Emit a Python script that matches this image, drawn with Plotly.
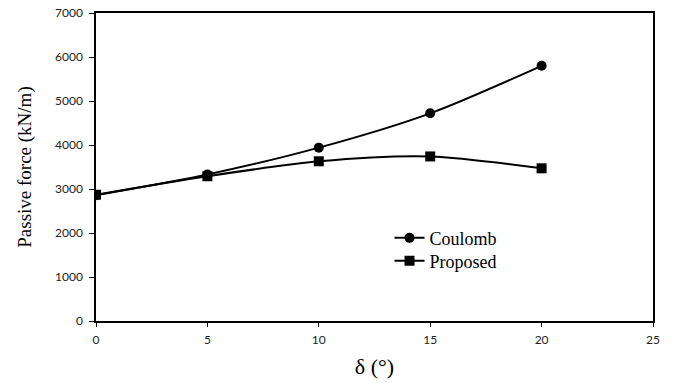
import plotly.graph_objects as go

delta = [0, 5, 10, 15, 20]
coulomb = [2860, 3330, 3940, 4720, 5800]
proposed = [2870, 3290, 3630, 3740, 3470]
x_ticks = [0, 5, 10, 15, 20, 25]
y_ticks = [0, 1000, 2000, 3000, 4000, 5000, 6000, 7000]

fig = go.Figure()
fig.add_trace(go.Scatter(x=delta, y=coulomb, name="Coulomb", mode="lines+markers", legend="legend",
                         line=dict(color="black", width=2, shape="spline", smoothing=0.8),
                         marker=dict(symbol="circle", size=10, color="black")))
fig.add_trace(go.Scatter(x=delta, y=proposed, name="Proposed", mode="lines+markers", legend="legend2",
                         line=dict(color="black", width=2, shape="spline", smoothing=0.8),
                         marker=dict(symbol="square", size=10, color="black")))

serif = "Liberation Serif, Times New Roman, serif"
tickfont = dict(family="Lato, Carlito, sans-serif", size=12, color="#222")
legfont = dict(family=serif, size=18, color="black")
fig.update_layout(
    width=674, height=385,
    margin=dict(l=96, r=21, t=13, b=64, autoexpand=False),
    plot_bgcolor="white", paper_bgcolor="white",
    showlegend=True,
    legend=dict(x=0.527, y=0.269, xanchor="left", yanchor="middle", font=legfont,
                bgcolor="rgba(0,0,0,0)", itemwidth=30),
    legend2=dict(x=0.527, y=0.195, xanchor="left", yanchor="middle", font=legfont,
                 bgcolor="rgba(0,0,0,0)", itemwidth=30),
    xaxis=dict(range=[0, 25], tickvals=x_ticks, showgrid=False, zeroline=False, automargin=False,
               showline=True, linecolor="black", linewidth=1.5, mirror=True,
               ticks="outside", ticklen=4, tickcolor="black", tickfont=tickfont, ticklabelstandoff=3,
               title=dict(text="δ (°)", font=dict(family=serif, size=22, color="black"), standoff=12)),
    yaxis=dict(range=[0, 7000], tickvals=y_ticks, showgrid=False, zeroline=False, automargin=False,
               showline=True, linecolor="black", linewidth=1.5, mirror=True,
               ticks="outside", ticklen=5, tickcolor="black", tickfont=tickfont, ticklabelstandoff=4,
               title=dict(text="Passive force (kN/m)", font=dict(family=serif, size=19, color="black"), standoff=18)),
)
fig.write_html("out.html")
